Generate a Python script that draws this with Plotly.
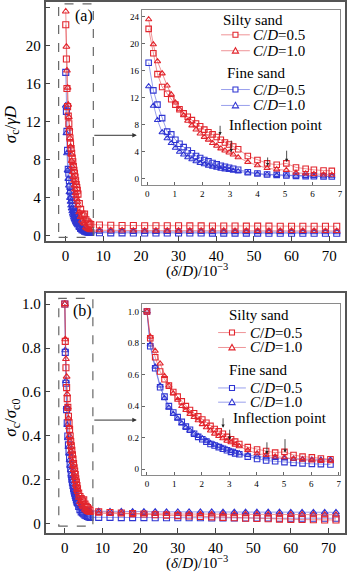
import plotly.graph_objects as go

W, H = 350, 573
FONT = "'Liberation Serif', 'Times New Roman', Times, serif"
RED = "#E2252D"
RED_L = "rgba(226,60,66,0.55)"
BLUE = "#2F35D2"
BLUE_L = "rgba(70,80,220,0.55)"

# ---------------- data: panel (a) sigma_c / gamma D ----------------
a_x = [0.05, 0.22, 0.37, 0.54, 0.72, 0.87, 1.02, 1.17, 1.32, 1.47, 1.62, 1.77, 1.92, 2.07,
       2.22, 2.37, 2.52, 2.67, 2.82, 2.97, 3.12, 3.3, 3.65, 4.0, 4.35, 4.7, 5.05, 5.4,
       5.75, 6.05, 6.4, 6.7]
a_silty05 = [22.2, 18.6, 15.5, 13.6, 12.6, 11.8, 11.0, 10.3, 9.7, 9.2, 8.7, 8.2, 7.8, 7.3,
             6.9, 6.6, 6.2, 5.8, 5.4, 5.1, 4.8, 4.4, 3.4, 2.8, 2.3, 2.1, 2.3, 1.7,
             1.5, 1.35, 1.25, 1.2]
a_silty10 = [23.6, 19.9, 17.4, 15.6, 13.8, 12.5, 11.3, 10.3, 9.4, 8.6, 7.9, 7.3, 6.7, 6.2,
             5.8, 5.3, 4.9, 4.5, 4.2, 3.9, 3.6, 3.2, 2.5, 2.0, 1.6, 1.4, 1.3, 0.9,
             0.8, 0.7, 0.65, 0.6]
a_fine05 = [17.2, 13.1, 11.0, 9.0, 7.0, 6.6, 5.8, 5.2, 4.7, 4.2, 3.8, 3.4, 3.1, 2.8,
            2.6, 2.35, 2.15, 1.95, 1.8, 1.65, 1.5, 1.35, 1.0, 0.8, 0.65, 0.6, 0.5, 0.45,
            0.42, 0.4, 0.38, 0.36]
a_fine10 = [13.7, 10.8, 8.7, 6.9, 6.0, 5.3, 4.6, 4.0, 3.6, 3.2, 2.9, 2.6, 2.35, 2.15,
            1.95, 1.8, 1.65, 1.5, 1.4, 1.3, 1.2, 1.1, 0.9, 0.75, 0.65, 0.55, 0.5, 0.45,
            0.42, 0.4, 0.38, 0.37]

tail_x = [9, 12, 15, 18, 21, 24, 27, 30, 33, 36, 39, 42, 45, 48, 51, 54, 57, 60, 63, 66, 69, 72]
a_silty05_tail = [1.15, 1.12, 1.1, 1.1, 1.08, 1.08, 1.07, 1.07, 1.06, 1.06, 1.05, 1.05, 1.05,
                  1.04, 1.04, 1.04, 1.03, 1.03, 1.03, 1.02, 1.02, 1.02]
a_silty10_tail = [0.6, 0.58, 0.58, 0.57, 0.57, 0.56, 0.56, 0.56, 0.55, 0.55, 0.55, 0.55, 0.54,
                  0.54, 0.54, 0.54, 0.53, 0.53, 0.53, 0.53, 0.52, 0.52]
a_fine05_tail = [0.34, 0.33, 0.33, 0.32, 0.32, 0.32, 0.31, 0.31, 0.31, 0.31, 0.3, 0.3, 0.3,
                 0.3, 0.3, 0.29, 0.29, 0.29, 0.29, 0.29, 0.28, 0.28]
a_fine10_tail = [0.45, 0.44, 0.44, 0.43, 0.43, 0.43, 0.42, 0.42, 0.42, 0.42, 0.41, 0.41, 0.41,
                 0.41, 0.4, 0.4, 0.4, 0.4, 0.4, 0.39, 0.39, 0.39]

# ---------------- data: panel (b) sigma_c / sigma_c0 ----------------
b_x = [0, 0.12, 0.3, 0.48, 0.64, 0.8, 0.96, 1.12, 1.27, 1.42, 1.57, 1.72, 1.87, 2.02, 2.17,
       2.32, 2.47, 2.62, 2.77, 2.92, 3.07, 3.22, 3.37, 3.68, 4.02, 4.35, 4.68, 5.02, 5.35,
       5.68, 6.02, 6.35, 6.7]
b_silty05 = [1.0, 0.83, 0.71, 0.62, 0.57, 0.53, 0.49, 0.46, 0.43, 0.40, 0.375, 0.355, 0.335,
             0.315, 0.295, 0.275, 0.255, 0.24, 0.225, 0.205, 0.19, 0.175, 0.16, 0.14, 0.125,
             0.115, 0.105, 0.11, 0.09, 0.08, 0.075, 0.068, 0.063]
b_silty10 = [1.0, 0.84, 0.75, 0.67, 0.59, 0.53, 0.48, 0.44, 0.40, 0.375, 0.35, 0.33, 0.31,
             0.285, 0.265, 0.245, 0.225, 0.21, 0.195, 0.18, 0.17, 0.155, 0.145, 0.12, 0.10,
             0.09, 0.08, 0.075, 0.065, 0.06, 0.055, 0.052, 0.05]
b_fine05 = [1.0, 0.78, 0.64, 0.52, 0.46, 0.40, 0.36, 0.33, 0.30, 0.27, 0.25, 0.225, 0.205,
            0.19, 0.175, 0.16, 0.15, 0.14, 0.13, 0.12, 0.11, 0.10, 0.095, 0.08, 0.065,
            0.055, 0.05, 0.045, 0.04, 0.037, 0.034, 0.032, 0.03]
b_fine10 = [1.0, 0.79, 0.65, 0.53, 0.45, 0.39, 0.35, 0.32, 0.29, 0.265, 0.245, 0.225, 0.21,
            0.195, 0.18, 0.165, 0.155, 0.145, 0.135, 0.125, 0.115, 0.11, 0.10, 0.09, 0.08,
            0.074, 0.07, 0.068, 0.065, 0.063, 0.061, 0.06, 0.06]
b_silty05_tail = [0.055, 0.052, 0.05, 0.047, 0.045, 0.042, 0.04, 0.038, 0.036, 0.034, 0.032,
                  0.03, 0.028, 0.026, 0.025, 0.024, 0.022, 0.021, 0.02, 0.019, 0.018, 0.018]
b_silty10_tail = [0.048, 0.047, 0.047, 0.046, 0.046, 0.046, 0.045, 0.045, 0.045, 0.045, 0.044,
                  0.044, 0.044, 0.044, 0.044, 0.043, 0.043, 0.043, 0.043, 0.043, 0.042, 0.042]
b_fine05_tail = [0.03, 0.03, 0.029, 0.029, 0.029, 0.028, 0.028, 0.028, 0.028, 0.028, 0.027,
                 0.027, 0.027, 0.027, 0.027, 0.027, 0.026, 0.026, 0.026, 0.026, 0.026, 0.026]
b_fine10_tail = [0.058, 0.057, 0.057, 0.056, 0.056, 0.056, 0.055, 0.055, 0.055, 0.055, 0.055,
                 0.054, 0.054, 0.054, 0.054, 0.054, 0.054, 0.053, 0.053, 0.053, 0.053, 0.053]

# inflection-point arrows (x, arrow tail y, arrow tip y)
infl_a_x = [3.05, 4.37, 5.06]
infl_a_tail = [5.9, 3.4, 4.4]
infl_a_tip = [3.95, 1.9, 2.5]
infl_b_x = [3.02, 4.38, 5.04]
infl_b_tail = [0.26, 0.18, 0.2]
infl_b_tip = [0.185, 0.095, 0.105]

series_names = ["Silty sand C/D=0.5", "Silty sand C/D=1.0", "Fine sand C/D=0.5", "Fine sand C/D=1.0"]
styles = [(RED, RED_L, "square-open"), (RED, RED_L, "triangle-up-open"),
          (BLUE, BLUE_L, "square-open"), (BLUE, BLUE_L, "triangle-up-open")]

fig = go.Figure()

a_inset = [a_silty05, a_silty10, a_fine05, a_fine10]
a_tails = [a_silty05_tail, a_silty10_tail, a_fine05_tail, a_fine10_tail]
b_inset = [b_silty05, b_silty10, b_fine05, b_fine10]
b_tails = [b_silty05_tail, b_silty10_tail, b_fine05_tail, b_fine10_tail]

# order: blue first, red on top
order = [2, 3, 0, 1]
for i in order:
    mc, lc, sym = styles[i]
    for xs, ys, xa, ya, sz in [
        (a_x + tail_x, a_inset[i] + a_tails[i], "x", "y", 6),
        (a_x, a_inset[i], "x2", "y2", 5.5),
        (b_x + tail_x, b_inset[i] + b_tails[i], "x3", "y3", 6),
        (b_x, b_inset[i], "x4", "y4", 5.5),
    ]:
        fig.add_trace(go.Scatter(
            x=xs, y=ys, mode="lines+markers", name=series_names[i],
            xaxis=xa, yaxis=ya, showlegend=False,
            line=dict(color=lc, width=1),
            marker=dict(symbol=sym, size=sz, color=mc, line=dict(color=mc, width=1.1)),
        ))


def px(x):
    return x / W


def py(y):
    return 1 - y / H


main_ax = dict(showline=True, linecolor="#555", linewidth=1.6, mirror=True, ticks="inside",
               ticklen=5, tickwidth=1.2, tickcolor="#444", showgrid=False, zeroline=False,
               tickfont=dict(family=FONT, size=15, color="black"))
ins_ax = dict(showline=True, linecolor="#8a8a8a", linewidth=1, mirror=True, ticks="inside",
              ticklen=3, tickwidth=1, tickcolor="#666", showgrid=False, zeroline=False,
              tickfont=dict(family=FONT, size=9, color="black"))

b_ticks = [0, 0.2, 0.4, 0.6, 0.8, 1.0]
b_ticktext = ["0", "0.2", "0.4", "0.6", "0.8", "1.0"]

fig.update_layout(
    width=W, height=H, margin=dict(l=0, r=0, t=0, b=0),
    paper_bgcolor="white", plot_bgcolor="white", showlegend=False,
    font=dict(family=FONT, color="black"),
    xaxis=dict(main_ax, domain=[px(46), px(348)], range=[-5.3, 74.2],
               tickvals=[0, 10, 20, 30, 40, 50, 60, 70], anchor="y"),
    yaxis=dict(main_ax, domain=[py(242), py(2)], range=[-0.5, 24.6],
               tickvals=[0, 4, 8, 12, 16, 20, 24], anchor="x"),
    xaxis2=dict(ins_ax, domain=[px(143), px(343)], range=[-0.2, 7.0],
                tickvals=[0, 1, 2, 3, 4, 5, 6, 7], anchor="y2"),
    yaxis2=dict(ins_ax, domain=[py(186), py(10)], range=[-0.9, 25.0],
                tickvals=[0, 4, 8, 12, 16, 20, 24], anchor="x2"),
    xaxis3=dict(main_ax, domain=[px(46), px(348)], range=[-5.1, 74.4],
                tickvals=[0, 10, 20, 30, 40, 50, 60, 70], anchor="y3"),
    yaxis3=dict(main_ax, domain=[py(536), py(295)], range=[-0.042, 1.048],
                tickvals=b_ticks, ticktext=b_ticktext, anchor="x3"),
    xaxis4=dict(ins_ax, domain=[px(143), px(343)], range=[-0.19, 7.05],
                tickvals=[0, 1, 2, 3, 4, 5, 6, 7], anchor="y4"),
    yaxis4=dict(ins_ax, domain=[py(478), py(305.7)], range=[-0.04, 1.047],
                tickvals=b_ticks, ticktext=b_ticktext, anchor="x4"),
)

ann = []
shapes = []


def text(x, y, t, size=15, xanchor="left", angle=0):
    ann.append(dict(x=px(x), y=py(y), xref="paper", yref="paper", text=t, showarrow=False,
                    xanchor=xanchor, yanchor="middle", textangle=angle,
                    font=dict(family=FONT, size=size, color="black")))


# axis titles
xtitle = "(<i>δ</i>/<i>D</i>)/10<sup>−3</sup>"
text(199, 272, xtitle, 15, "center")
text(199, 565, xtitle, 15, "center")
text(12, 125, "<i>σ</i><sub>c</sub>/<i>γD</i>", 17, "center", -90)
text(12, 420, "<i>σ</i><sub>c</sub>/<i>σ</i><sub>c0</sub>", 17, "center", -90)
# panel labels
text(74, 16, "(a)", 16)
text(72, 313, "(b)", 16)

# dashed zoom boxes
shapes.append(dict(type="rect", xref="x", yref="y", x0=-1.84, x1=7.37, y0=-0.15, y1=24.4,
                   line=dict(color="#666", width=1.2, dash="dash")))
shapes.append(dict(type="rect", xref="x3", yref="y3", x0=-1.6, x1=7.45, y0=-0.01, y1=1.026,
                   line=dict(color="#666", width=1.2, dash="dash")))

# connecting arrows
for yy in (136, 422.3):
    ann.append(dict(x=px(138), y=py(yy), xref="paper", yref="paper", ax=-44, ay=0,
                    showarrow=True, arrowhead=2, arrowsize=0.9, arrowwidth=1,
                    arrowcolor="#333", text=""))

# inflection arrows in insets
for xs, tails, tips, xa, ya in [(infl_a_x, infl_a_tail, infl_a_tip, "x2", "y2"),
                                 (infl_b_x, infl_b_tail, infl_b_tip, "x4", "y4")]:
    for x, t0, t1 in zip(xs, tails, tips):
        ann.append(dict(x=x, y=t1, xref=xa, yref=ya, ax=x, ay=t0, axref=xa, ayref=ya,
                        showarrow=True, arrowhead=2, arrowsize=0.8, arrowwidth=0.8,
                        arrowcolor="#222", text=""))


def legend_block(title_y, title_x, rows, line_x0, line_x1, text_x, infl_x, infl_y, arr_x):
    text(title_x[0], title_y[0], "Silty sand", 15)
    text(title_x[1], title_y[1], "Fine sand", 15)
    labels = ["<i>C</i>/<i>D</i>=0.5", "<i>C</i>/<i>D</i>=1.0"] * 2
    for (mc, lc, sym), ry, lab in zip(styles, rows, labels):
        shapes.append(dict(type="line", xref="paper", yref="paper", x0=px(line_x0),
                           x1=px(line_x1), y0=py(ry), y1=py(ry), line=dict(color=lc, width=1)))
        cx = (line_x0 + line_x1) / 2
        if sym.startswith("square"):
            shapes.append(dict(type="rect", xref="paper", yref="paper", xsizemode="pixel",
                               ysizemode="pixel", xanchor=px(cx), yanchor=py(ry),
                               x0=-2.5, x1=2.5, y0=-2.5, y1=2.5, fillcolor="white",
                               line=dict(color=mc, width=1.1)))
        else:
            shapes.append(dict(type="path", xref="paper", yref="paper", xsizemode="pixel",
                               ysizemode="pixel", xanchor=px(cx), yanchor=py(ry),
                               path="M -3.1 -2.4 L 3.1 -2.4 L 0 3.1 Z", fillcolor="white",
                               line=dict(color=mc, width=1.1)))
        text(text_x, ry, lab, 15)
    text(infl_x, infl_y, "Inflection point", 15)
    ann.append(dict(x=px(arr_x), y=py(infl_y + 10), xref="paper", yref="paper", ax=0, ay=-11,
                    showarrow=True, arrowhead=2, arrowsize=0.8, arrowwidth=0.8,
                    arrowcolor="#222", text=""))


legend_block((20, 73), (223, 227), (35, 51, 90, 106), 223, 252, 253, 229, 126, 222)
legend_block((316.7, 372.3), (229, 229), (334.3, 349.3, 390, 404.3), 220, 248, 250, 233, 420, 225)

fig.update_layout(annotations=ann, shapes=shapes)
fig.write_html("out.html")
